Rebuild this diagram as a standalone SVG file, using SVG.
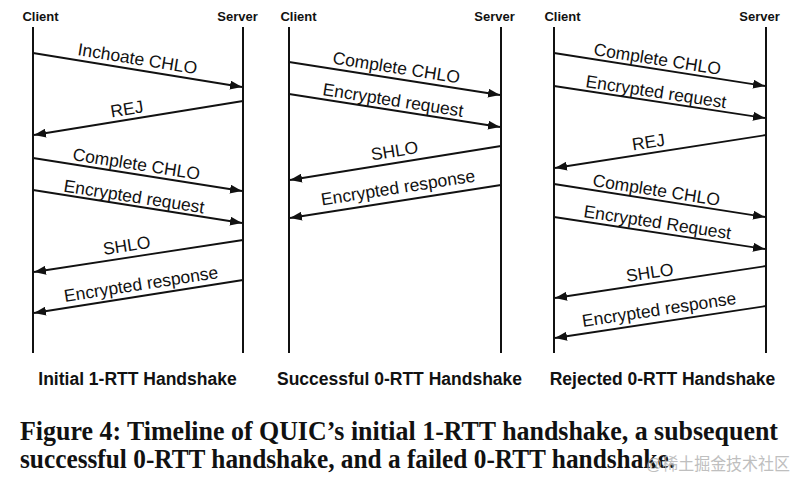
<svg xmlns="http://www.w3.org/2000/svg" width="800" height="485" viewBox="0 0 800 485">
<style>
.life{stroke:#111;stroke-width:2;fill:none}
.msg{stroke:#111;stroke-width:1.8;fill:none;marker-end:url(#ah)}
.hdr{font-family:"Liberation Sans",Arial,sans-serif;font-weight:bold;font-size:13px;fill:#111;text-anchor:middle}
.lbl{font-family:"Liberation Sans",Arial,sans-serif;font-size:17.5px;fill:#111}
.ttl{font-family:"Liberation Sans",Arial,sans-serif;font-weight:bold;font-size:17.5px;fill:#111;text-anchor:middle}
.cap{font-family:"Liberation Serif","Times New Roman",serif;font-weight:bold;font-size:27px;fill:#111}
.wm{font-family:"Liberation Sans","Noto Sans CJK SC",sans-serif;font-size:17px;fill:#b4b4b4;opacity:0.85}
</style>
<defs>
<marker id="ah" markerUnits="userSpaceOnUse" markerWidth="13" markerHeight="9" refX="12" refY="4.5" orient="auto">
<path d="M0,0 L12,4.5 L0,9 z" fill="#111"/>
</marker>
</defs>
<rect width="800" height="485" fill="#fff"/>

<g id="p1-client"><line class="life" x1="33" y1="27" x2="33" y2="353"/><text class="hdr" x="40.5" y="21">Client</text></g>
<g id="p1-server"><line class="life" x1="243" y1="27" x2="243" y2="353"/><text class="hdr" x="237.5" y="21">Server</text></g>
<g id="p2-client"><line class="life" x1="289" y1="27" x2="289" y2="353"/><text class="hdr" x="298.5" y="21">Client</text></g>
<g id="p2-server"><line class="life" x1="501" y1="27" x2="501" y2="353"/><text class="hdr" x="494.5" y="21">Server</text></g>
<g id="p3-client"><line class="life" x1="554" y1="27" x2="554" y2="353"/><text class="hdr" x="562.5" y="21">Client</text></g>
<g id="p3-server"><line class="life" x1="766" y1="27" x2="766" y2="353"/><text class="hdr" x="759.5" y="21">Server</text></g>

<g id="connectors">
<line class="msg" x1="33" y1="53" x2="242" y2="87"/>
<line class="msg" x1="243" y1="101" x2="34" y2="135"/>
<line class="msg" x1="33" y1="158" x2="242" y2="191"/>
<line class="msg" x1="33" y1="190" x2="242" y2="223"/>
<line class="msg" x1="243" y1="240" x2="34" y2="272"/>
<line class="msg" x1="243" y1="280" x2="34" y2="313"/>

<line class="msg" x1="289" y1="62" x2="500" y2="95"/>
<line class="msg" x1="289" y1="94" x2="500" y2="127"/>
<line class="msg" x1="501" y1="146" x2="290" y2="180"/>
<line class="msg" x1="501" y1="185" x2="290" y2="218"/>

<line class="msg" x1="554" y1="53" x2="765" y2="86"/>
<line class="msg" x1="554" y1="86" x2="765" y2="118"/>
<line class="msg" x1="766" y1="135" x2="555" y2="168"/>
<line class="msg" x1="554" y1="184" x2="765" y2="217"/>
<line class="msg" x1="554" y1="217" x2="765" y2="249"/>
<line class="msg" x1="766" y1="266" x2="555" y2="298"/>
<line class="msg" x1="766" y1="306" x2="555" y2="338"/>

<text class="lbl" transform="translate(77,55) rotate(9.2)">Inchoate CHLO</text>
<text class="lbl" transform="translate(111.5,117.5) rotate(-9.2)">REJ</text>
<text class="lbl" transform="translate(72,160) rotate(8.9)">Complete CHLO</text>
<text class="lbl" transform="translate(63,191.5) rotate(8.9)">Encrypted request</text>
<text class="lbl" transform="translate(104,255) rotate(-8.7)">SHLO</text>
<text class="lbl" transform="translate(65,302) rotate(-8.9)">Encrypted response</text>

<text class="lbl" transform="translate(332,63.5) rotate(8.9)">Complete CHLO</text>
<text class="lbl" transform="translate(322,95) rotate(8.9)">Encrypted request</text>
<text class="lbl" transform="translate(372,160.5) rotate(-9.1)">SHLO</text>
<text class="lbl" transform="translate(322,205.5) rotate(-8.9)">Encrypted response</text>

<text class="lbl" transform="translate(593,55) rotate(8.9)">Complete CHLO</text>
<text class="lbl" transform="translate(585,87) rotate(8.6)">Encrypted request</text>
<text class="lbl" transform="translate(633,150.5) rotate(-8.9)">REJ</text>
<text class="lbl" transform="translate(592,186) rotate(8.9)">Complete CHLO</text>
<text class="lbl" transform="translate(583,217) rotate(8.6)">Encrypted Request</text>
<text class="lbl" transform="translate(627,282) rotate(-8.6)">SHLO</text>
<text class="lbl" transform="translate(583,327) rotate(-8.6)">Encrypted response</text>
</g>

<text class="ttl" x="137.5" y="385">Initial 1-RTT Handshake</text>
<text class="ttl" x="399.5" y="385">Successful 0-RTT Handshake</text>
<text class="ttl" x="662.5" y="385">Rejected 0-RTT Handshake</text>

<text class="cap" x="20" y="440" textLength="758" lengthAdjust="spacingAndGlyphs">Figure 4: Timeline of QUIC’s initial 1-RTT handshake, a subsequent</text>
<text class="cap" x="20" y="468" textLength="655" lengthAdjust="spacingAndGlyphs">successful 0-RTT handshake, and a failed 0-RTT handshake.</text>
<text class="wm" x="646" y="470" textLength="144" lengthAdjust="spacingAndGlyphs">@稀土掘金技术社区</text>
</svg>
